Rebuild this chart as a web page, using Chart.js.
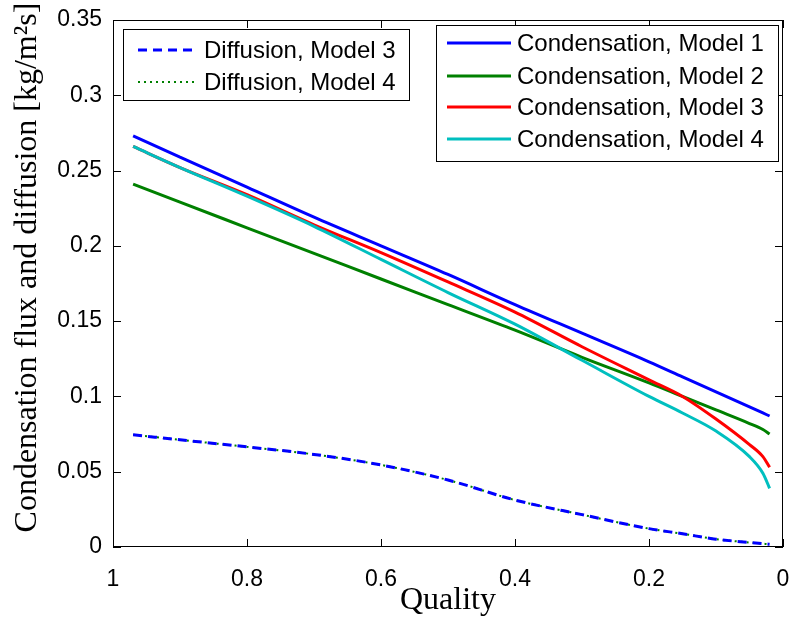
<!DOCTYPE html>
<html>
<head>
<meta charset="utf-8">
<script src="https://cdn.jsdelivr.net/npm/chart.js@4.4.1/dist/chart.umd.min.js"></script>
<style>
  body { margin: 0; background: #fff; }
  #wrap { width: 798px; height: 628px; }
</style>
</head>
<body>
<div id="wrap"><canvas id="fluxChart" width="798" height="628"></canvas></div>
<script>
// Values
const quality = [0.97, 0.9, 0.8, 0.7, 0.6, 0.5, 0.4, 0.3, 0.2, 0.15, 0.1, 0.05, 0.03, 0.02]
const condModel1 = [0.273, 0.259, 0.239, 0.219, 0.200, 0.181, 0.161, 0.142, 0.123, 0.113, 0.103, 0.093, 0.089, 0.087]
const condModel2 = [0.241, 0.229, 0.212, 0.195, 0.178, 0.161, 0.144, 0.126, 0.109, 0.100, 0.091, 0.082, 0.078, 0.075]
const condModel3 = [0.266, 0.252, 0.234, 0.214, 0.1955, 0.176, 0.156, 0.133, 0.111, 0.100, 0.085, 0.068, 0.060, 0.053]
const condModel4 = [0.266, 0.252, 0.233, 0.213, 0.191, 0.169, 0.148, 0.124, 0.100, 0.089, 0.077, 0.060, 0.049, 0.039]
const diffModel3 = [0.0745, 0.0712, 0.0665, 0.0615, 0.0545, 0.0445, 0.0312, 0.0215, 0.0122, 0.0088, 0.0052, 0.0030, 0.0022, 0.0018]
const diffModel4 = [0.0745, 0.0712, 0.0665, 0.0615, 0.0545, 0.0445, 0.0312, 0.0215, 0.0122, 0.0088, 0.0052, 0.0030, 0.0022, 0.0018]

const xTicks = [1, 0.8, 0.6, 0.4, 0.2, 0]
const xTickLabels = ['1', '0.8', '0.6', '0.4', '0.2', '0']
const yTicks = [0, 0.05, 0.1, 0.15, 0.2, 0.25, 0.3, 0.35]
const yTickLabels = ['0', '0.05', '0.1', '0.15', '0.2', '0.25', '0.3', '0.35']

const toPoints = (arr) => quality.map((q, i) => ({ x: q, y: arr[i] }))

const makeLine = (label, data, color, order, width, dash) => ({
    label: label,
    data: toPoints(data),
    borderColor: color,
    backgroundColor: color,
    borderWidth: width,
    borderDash: dash || [],
    pointRadius: 0,
    fill: false,
    cubicInterpolationMode: 'monotone',
    order: order
})

const datasets = [
    makeLine('Condensation, Model 1', condModel1, '#0000ff', 5, 3),
    makeLine('Condensation, Model 2', condModel2, '#008000', 4, 3),
    makeLine('Condensation, Model 3', condModel3, '#ff0000', 3, 3),
    makeLine('Condensation, Model 4', condModel4, '#00bfbf', 2, 3),
    makeLine('Diffusion, Model 3', diffModel3, '#0000ff', 0, 3, [9, 6]),
    makeLine('Diffusion, Model 4', diffModel4, '#008000', 1, 2, [2, 4])
]

// frame with inward ticks, like the original figure
const framePlugin = {
    id: 'frame',
    afterDatasetsDraw(chart) {
        const { ctx, chartArea: a, scales } = chart
        ctx.save()
        ctx.strokeStyle = '#000'
        ctx.lineWidth = 1
        ctx.strokeRect(a.left + 0.5, a.top + 0.5, a.right - a.left - 1, a.bottom - a.top - 1)
        ctx.beginPath()
        xTicks.forEach((v) => {
            const px = Math.round(scales.x.getPixelForValue(v)) + 0.5
            ctx.moveTo(px, a.bottom); ctx.lineTo(px, a.bottom - 8)
            ctx.moveTo(px, a.top); ctx.lineTo(px, a.top + 8)
        })
        yTicks.forEach((v) => {
            const py = Math.round(scales.y.getPixelForValue(v)) + 0.5
            ctx.moveTo(a.left, py); ctx.lineTo(a.left + 8, py)
            ctx.moveTo(a.right, py); ctx.lineTo(a.right - 8, py)
        })
        ctx.stroke()
        ctx.restore()
    }
}

// two boxed legends inside the plot
const legendBoxes = [
    { x: 123, y: 29, w: 286, h: 71, rows: [4, 5], rowY: [50, 82], lineX: [138, 198], textX: 204 },
    { x: 436, y: 25, w: 342, h: 136, rows: [0, 1, 2, 3], rowY: [43, 76, 107, 139], lineX: [447, 511], textX: 517 }
]
const legendPlugin = {
    id: 'boxLegend',
    afterDraw(chart) {
        const ctx = chart.ctx
        ctx.save()
        legendBoxes.forEach((b) => {
            ctx.fillStyle = '#fff'
            ctx.fillRect(b.x, b.y, b.w, b.h)
            ctx.strokeStyle = '#000'
            ctx.lineWidth = 1
            ctx.setLineDash([])
            ctx.strokeRect(b.x + 0.5, b.y + 0.5, b.w, b.h)
            b.rows.forEach((di, k) => {
                const ds = chart.data.datasets[di]
                const y = b.rowY[k]
                ctx.strokeStyle = ds.borderColor
                ctx.lineWidth = ds.borderWidth
                ctx.setLineDash(ds.borderDash)
                ctx.beginPath()
                ctx.moveTo(b.lineX[0], y)
                ctx.lineTo(b.lineX[1], y)
                ctx.stroke()
                ctx.setLineDash([])
                ctx.fillStyle = '#000'
                ctx.font = '24px "Liberation Sans", Arial, sans-serif'
                ctx.textBaseline = 'middle'
                ctx.textAlign = 'left'
                ctx.fillText(ds.label, b.textX, y + 1)
            })
        })
        ctx.restore()
    }
}

const tickFont = { family: '"Liberation Sans", Arial, sans-serif', size: 23 }
const titleFont = { family: '"Liberation Serif", "Times New Roman", serif', size: 32 }

new Chart(document.getElementById('fluxChart'), {
    type: 'line',
    data: { datasets: datasets },
    options: {
        responsive: false,
        animation: false,
        layout: { padding: { left: 0, right: 15, top: 20, bottom: 0 } },
        plugins: {
            legend: { display: false },
            tooltip: { enabled: false }
        },
        scales: {
            x: {
                type: 'linear',
                reverse: true,
                min: 0,
                max: 1,
                afterBuildTicks: (s) => { s.ticks = xTicks.map((v) => ({ value: v })) },
                afterFit: (s) => { s.height = 81; s.paddingLeft = 0; s.paddingRight = 0 },
                ticks: {
                    color: '#000',
                    font: tickFont,
                    padding: 19,
                    maxRotation: 0,
                    callback: (v) => xTickLabels[xTicks.indexOf(v)]
                },
                grid: { display: false, drawTicks: false },
                border: { display: false },
                title: {
                    display: true,
                    text: 'Quality',
                    color: '#000',
                    font: titleFont,
                    padding: { top: 0, bottom: 8 }
                }
            },
            y: {
                type: 'linear',
                min: 0,
                max: 0.35,
                afterBuildTicks: (s) => { s.ticks = yTicks.map((v) => ({ value: v })) },
                afterFit: (s) => { s.width = 113; s.paddingTop = 0; s.paddingBottom = 0 },
                ticks: {
                    color: '#000',
                    font: tickFont,
                    padding: 11,
                    callback: (v) => yTickLabels[yTicks.indexOf(v)]
                },
                grid: { display: false, drawTicks: false },
                border: { display: false },
                title: {
                    display: true,
                    text: '    Condensation flux and diffusion [kg/m²s]',
                    color: '#000',
                    font: titleFont,
                    padding: { top: 8, bottom: 0 }
                }
            }
        }
    },
    plugins: [framePlugin, legendPlugin]
})
</script>
</body>
</html>
